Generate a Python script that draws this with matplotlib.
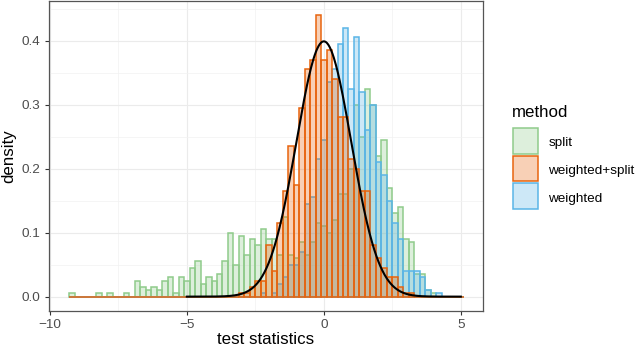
import matplotlib
matplotlib.use("Agg")
import matplotlib.pyplot as plt
import numpy as np
from matplotlib.colors import to_rgba
from matplotlib.patches import Rectangle
from matplotlib.ticker import FormatStrFormatter

plt.rcParams['font.family'] = ['Liberation Sans', 'DejaVu Sans']

# histogram bins shared by all methods
bin_start = -9.3
bin_width = 0.2

# densities per bin (72 bins from -9.3 to 5.1)
split = [0.005, 0, 0, 0, 0, 0.005, 0, 0.005, 0, 0,
         0.005, 0, 0.025, 0.015, 0.01, 0.015, 0.01, 0.025, 0.03, 0.005,
         0.03, 0.025, 0.045, 0.055, 0.02, 0.03, 0.025, 0.035, 0.055, 0.10,
         0.05, 0.095, 0.065, 0.09, 0.08, 0.105, 0.09, 0.09, 0.065, 0.125,
         0.065, 0.06, 0.085, 0.065, 0.085, 0.115, 0.11, 0.10, 0.12, 0.16,
         0.16, 0.20, 0.30, 0.25, 0.325, 0.30, 0.22, 0.245, 0.17, 0.13,
         0.14, 0.09, 0.085, 0.035, 0.035, 0.01, 0.005, 0, 0, 0,
         0, 0]
weighted_split = [0] * 31 + [
         0.005, 0.005, 0.015, 0.025, 0.025, 0.08, 0.04, 0.115, 0.165,
         0.235, 0.175, 0.295, 0.355, 0.37, 0.44, 0.37, 0.385, 0.34, 0.28,
         0.28, 0.215, 0.20, 0.165, 0.165, 0.08, 0.06, 0.045, 0.03, 0.03,
         0.015, 0.005, 0.005] + [0] * 9
weighted = [0] * 35 + [
         0.005, 0, 0.005, 0.02, 0.03, 0.05, 0.05, 0.07, 0.145, 0.155,
         0.215, 0.245, 0.335, 0.355, 0.395, 0.42, 0.325, 0.405, 0.32, 0.26,
         0.30, 0.21, 0.19, 0.15, 0.115, 0.09, 0.04, 0.04, 0.04, 0.03,
         0.01, 0, 0.005] + [0] * 4

methods = ['split', 'weighted+split', 'weighted']
colors = {'split': '#8FCB8B', 'weighted+split': '#E8640E', 'weighted': '#5AB5E7'}
series = {'split': split, 'weighted+split': weighted_split, 'weighted': weighted}
draw_order = ['split', 'weighted', 'weighted+split']

# reference normal density
curve_mean, curve_sd = 0.0, 1.0
curve_lo, curve_hi = -5, 5

W, H = 640, 352
fig = plt.figure(figsize=(W / 100, H / 100), dpi=100)
ax = fig.add_axes([49.3 / W, 1 - 310.7 / H, (483.3 - 49.3) / W, (310.7 - 1) / H])

nb = len(split)
edges = bin_start + bin_width * np.arange(nb + 1)
for m in draw_order:
    c = colors[m]
    ax.bar(edges[:-1], series[m], width=bin_width, align='edge',
           facecolor=to_rgba(c, 0.3), edgecolor=c, linewidth=1.1, zorder=2)

xs = np.linspace(curve_lo, curve_hi, 400)
ys = np.exp(-0.5 * ((xs - curve_mean) / curve_sd) ** 2) / (curve_sd * np.sqrt(2 * np.pi))
ax.plot(xs, ys, color='black', linewidth=1.5, zorder=3)

# ggplot-like expansion
xmin, xmax = min(edges[0], curve_lo), max(edges[-1], curve_hi)
dx = 0.05 * (xmax - xmin)
ax.set_xlim(xmin - dx, xmax + dx)
ymax = max(max(split), max(weighted_split), max(weighted), ys.max())
ax.set_ylim(-0.05 * ymax, 1.05 * ymax)

ax.set_xticks([-10, -5, 0, 5])
ax.set_xticks([-7.5, -2.5, 2.5], minor=True)
ax.set_yticks([0, 0.1, 0.2, 0.3, 0.4])
ax.set_yticks([0.05, 0.15, 0.25, 0.35, 0.45], minor=True)
ax.yaxis.set_major_formatter(FormatStrFormatter('%.1f'))
ax.set_axisbelow(True)
ax.grid(which='major', color='#EBEBEB', linewidth=0.8)
ax.grid(which='minor', color='#F2F2F2', linewidth=0.5)
ax.tick_params(which='major', length=3.0, width=0.8, color='#333333',
               labelsize=9.7, labelcolor='#4D4D4D', pad=3.3)
ax.tick_params(which='minor', length=0)
for s in ax.spines.values():
    s.set_color('#555555')
    s.set_linewidth(0.9)

fig.text(9 / W, 1 - 156 / H, 'density', rotation=90, ha='center', va='center', fontsize=12.2)
fig.text(266 / W, 1 - 340 / H, 'test statistics', ha='center', va='center', fontsize=12.2)

# legend
fig.text(511.7 / W, 1 - 116.7 / H, 'method', ha='left', va='baseline', fontsize=12.2)
for i, m in enumerate(methods):
    top = 128 + 27.7 * i
    c = colors[m]
    fig.add_artist(Rectangle((512.5 / W, 1 - (top + 25.5) / H), 25.5 / W, 25.5 / H,
                             transform=fig.transFigure, facecolor=to_rgba(c, 0.3),
                             edgecolor=c, linewidth=1.1))
    fig.text(548.3 / W, 1 - (top + 18.2) / H, m, ha='left', va='baseline',
             fontsize=9.7, color='black')

fig.savefig('out.png', dpi=100)
